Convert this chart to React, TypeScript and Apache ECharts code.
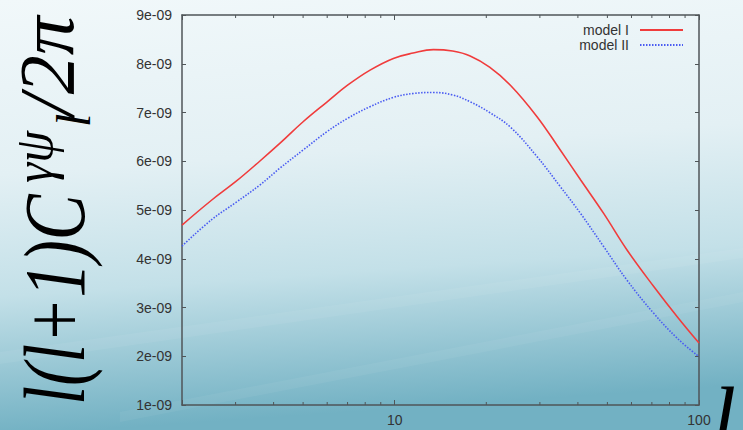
import React, { useEffect, useRef } from "react";
import * as echarts from "echarts";

// multipole l values (shared by both curves)
const L_VALUES = [2, 2.5, 3, 3.6, 4.2, 5, 6, 7, 8.3, 9.9, 11.5, 13.4, 15.5, 17.7, 20.5, 24, 29.4, 35, 40.8, 48.6, 58, 71, 84.8, 100];
// l(l+1)C_l/2pi in units of 1e-09
const MODEL_I = [4.69, 5.2, 5.58, 6.0, 6.37, 6.81, 7.22, 7.56, 7.87, 8.11, 8.22, 8.29, 8.26, 8.16, 7.93, 7.56, 6.91, 6.23, 5.62, 4.93, 4.18, 3.43, 2.81, 2.27];
const MODEL_II = [4.26, 4.8, 5.15, 5.51, 5.86, 6.23, 6.61, 6.88, 7.12, 7.31, 7.39, 7.41, 7.36, 7.22, 7.0, 6.7, 6.09, 5.48, 4.93, 4.25, 3.56, 2.88, 2.37, 1.99];
const SERIES_NAMES = ["model I", "model II"];
const MINOR_L = [3, 4, 5, 6, 7, 8, 9, 20, 30, 40, 50, 60, 70, 80, 90];
const X_LABELED = [10, 100];
const Y_MIN = 1;
const Y_MAX = 9;
const Y_STEP = 1;
const Y_EXP = "e-09";

export default function App() {
  const ref = useRef<HTMLDivElement>(null);
  useEffect(() => {
    if (!ref.current) return;
    const chart = echarts.init(ref.current, null, { renderer: "svg" });
    const pair = (ys: number[]) => L_VALUES.map((l, i) => [l, ys[i]]);
    const axisColor = "#4f5558";
    const labelFont = "Liberation Sans";
    const serif = "Liberation Serif";
    const isLabeled = (v: number) => X_LABELED.some((d) => Math.abs(d - v) < 1e-6);
    const vText = (text: string, x: number, y: number, size: number, sx: number) => ({
      type: "text",
      x,
      y,
      rotation: Math.PI / 2,
      scaleX: sx,
      z: 10,
      style: { text, fontFamily: serif, fontStyle: "italic", fontSize: size, fill: "#000", align: "left", verticalAlign: "middle" },
    });
    const option: any = {
      animation: false,
      backgroundColor: new echarts.graphic.LinearGradient(0, 0, 0.12, 1, [
        { offset: 0, color: "#f1f8fa" },
        { offset: 0.4, color: "#e3f0f4" },
        { offset: 0.68, color: "#c3e0e8" },
        { offset: 1, color: "#72b1c3" },
      ]),
      grid: { left: 182, right: 44, top: 15, bottom: 25, show: false },
      legend: {
        data: SERIES_NAMES,
        orient: "vertical",
        right: 59,
        top: 23,
        padding: 0,
        itemGap: 1,
        itemWidth: 43,
        itemHeight: 14,
        align: "right",
        itemStyle: { opacity: 0 },
        textStyle: { fontFamily: labelFont, fontSize: 14, color: "#333", padding: [0, 6, 0, 0] },
      },
      xAxis: [
        {
          type: "log",
          logBase: 10,
          min: 2,
          max: 100,
          axisLine: { show: true, lineStyle: { color: axisColor, width: 1.5 } },
          axisTick: { show: true, inside: true, length: 5, lineStyle: { color: axisColor } },
          splitLine: { show: false },
          axisLabel: {
            fontFamily: labelFont,
            fontSize: 14,
            color: "#333",
            margin: 8,
            formatter: (v: number) => (isLabeled(v) ? String(Math.round(v)) : ""),
          },
        },
        {
          type: "log",
          logBase: 10,
          min: 2,
          max: 100,
          position: "top",
          axisLine: { show: true, lineStyle: { color: axisColor, width: 1.5 } },
          axisTick: { show: true, inside: true, length: 5, lineStyle: { color: axisColor } },
          splitLine: { show: false },
          axisLabel: { show: false },
        },
      ],
      yAxis: [
        {
          type: "value",
          min: Y_MIN,
          max: Y_MAX,
          interval: Y_STEP,
          axisLine: { show: true, lineStyle: { color: axisColor, width: 1.5 } },
          axisTick: { show: true, inside: true, length: 4, lineStyle: { color: axisColor } },
          splitLine: { show: false },
          axisLabel: {
            fontFamily: labelFont,
            fontSize: 14,
            color: "#333",
            margin: 10,
            formatter: (v: number) => `${Math.round(v)}${Y_EXP}`,
          },
        },
        {
          type: "value",
          min: Y_MIN,
          max: Y_MAX,
          interval: Y_STEP,
          position: "right",
          axisLine: { show: true, lineStyle: { color: axisColor, width: 1.5 } },
          axisTick: { show: true, inside: true, length: 4, lineStyle: { color: axisColor } },
          splitLine: { show: false },
          axisLabel: { show: false },
        },
      ],
      series: [
        {
          name: SERIES_NAMES[0],
          type: "line",
          data: pair(MODEL_I),
          smooth: 0.4,
          symbol: "none",
          lineStyle: { color: "#f03c3c", width: 1.6 },
          itemStyle: { color: "#f03c3c" },
        },
        {
          name: SERIES_NAMES[1],
          type: "line",
          data: pair(MODEL_II),
          smooth: 0.4,
          symbol: "none",
          lineStyle: { color: "#4a5cf2", width: 1.6, type: [1.5, 1.5] },
          itemStyle: { color: "#4a5cf2" },
        },
        {
          type: "custom",
          silent: true,
          data: MINOR_L.map((v) => [v, Y_MIN]),
          renderItem: (params: any, api: any) => {
            const v = api.value(0);
            const b = api.coord([v, Y_MIN]);
            const t = api.coord([v, Y_MAX]);
            const len = 3;
            const st = { stroke: axisColor, lineWidth: 1 };
            return {
              type: "group",
              children: [
                { type: "line", shape: { x1: b[0], y1: b[1], x2: b[0], y2: b[1] - len }, style: st },
                { type: "line", shape: { x1: t[0], y1: t[1], x2: t[0], y2: t[1] + len }, style: st },
              ],
            };
          },
        },
      ],
      graphic: [
        {
          type: "polygon",
          z: -1,
          silent: true,
          shape: { points: [[0, 352], [743, 248], [743, 258], [0, 364]] },
          style: { fill: "rgba(255,255,255,0.06)" },
        },
        {
          type: "polygon",
          z: -1,
          silent: true,
          shape: { points: [[120, 412], [743, 292], [743, 302], [120, 422]] },
          style: { fill: "rgba(255,255,255,0.05)" },
        },
        vText("l(l+1)C", 55, 405, 86, 0.8),
        vText("γψ", 34, 183, 54, 0.95),
        vText("l", 73, 127, 48, 1.0),
        vText("/2π", 46, 116, 78, 1.0),
        {
          type: "text",
          x: 712,
          y: 375,
          z: 10,
          style: { text: "l", fontFamily: serif, fontStyle: "italic", fontSize: 86, fill: "#000", align: "left", verticalAlign: "top" },
        },
      ],
    };
    chart.setOption(option);
    return () => chart.dispose();
  }, []);
  return <div ref={ref} style={{ position: "fixed", left: 0, top: 0, width: 743, height: 430 }} />;
}
